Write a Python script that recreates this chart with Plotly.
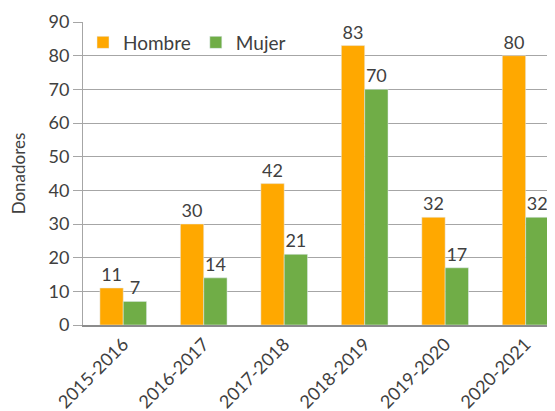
import plotly.graph_objects as go

periodos = ['2015-2016', '2016-2017', '2017-2018', '2018-2019', '2019-2020', '2020-2021']
hombre = [11, 30, 42, 83, 32, 80]
mujer = [7, 14, 21, 70, 17, 32]

txt = dict(family='Lato, Open Sans, sans-serif', color='#404040')

fig = go.Figure()
fig.add_trace(go.Bar(x=periodos, y=hombre, name='Hombre', marker_color='#FFA800',
                     text=hombre, textposition='outside', textfont=dict(size=18, **txt),
                     cliponaxis=False))
fig.add_trace(go.Bar(x=periodos, y=mujer, name='Mujer', marker_color='#70AD47',
                     text=mujer, textposition='outside', textfont=dict(size=18, **txt),
                     cliponaxis=False))

# page body has an 8px margin, so the figure is a bit smaller than the window
fig.update_layout(
    width=547, height=403,
    margin=dict(l=75, r=2, t=14, b=86, pad=0),
    paper_bgcolor='white', plot_bgcolor='white',
    barmode='group', bargap=0.42, bargroupgap=0,
    font=dict(size=18, **txt),
    showlegend=True,
    legend=dict(orientation='h', x=0.0, y=0.995, xanchor='left', yanchor='top',
                font=dict(size=19, **txt), bgcolor='rgba(0,0,0,0)',
                itemwidth=30, traceorder='normal'),
    uniformtext=dict(mode=False),
)
fig.update_yaxes(range=[0, 90], dtick=10, showgrid=True, gridcolor='#A6A6A6', gridwidth=1,
                 showline=True, linecolor='#A6A6A6', ticks='outside', ticklen=9,
                 tickcolor='#A6A6A6', zeroline=False, automargin=False,
                 tickfont=dict(size=18, **txt),
                 title=dict(text='Donadores', font=dict(size=17, **txt), standoff=28))
# the original chart runs past the right edge, so the last category is cut a bit
fig.update_xaxes(range=[-0.5, 5.34], tickangle=-45, showline=True, linecolor='#8C8C8C',
                 linewidth=1.5, ticks='', ticklen=2, automargin=False,
                 tickfont=dict(size=18, **txt))

fig.write_html('out.html')
